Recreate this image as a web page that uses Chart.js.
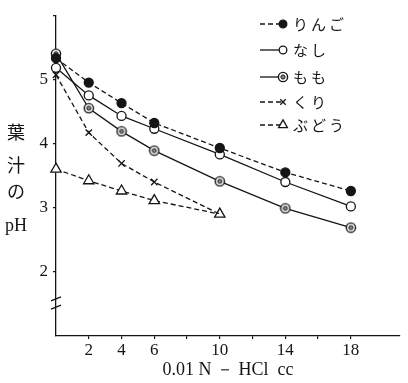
<!DOCTYPE html>
<html><head><meta charset="utf-8">
<script src="https://cdn.jsdelivr.net/npm/chart.js@4/dist/chart.umd.min.js"></script>
<style>html,body{margin:0;padding:0;background:#fff}#wrap{width:408px;height:383px;position:relative}</style>
</head><body><div id="wrap"><canvas id="c" width="408" height="383"></canvas></div>
<script>
// ---- data ----
const xValues = [0, 2, 4, 6, 10, 14, 18];
const ringo = [5.33, 4.95, 4.63, 4.32, 3.93, 3.55, 3.26];
const nashi = [5.18, 4.75, 4.43, 4.23, 3.83, 3.40, 3.02];
const momo  = [5.40, 4.55, 4.19, 3.89, 3.41, 2.99, 2.69];
const kuriX = [0, 2, 4, 6, 10];
const kuri  = [5.07, 4.17, 3.69, 3.40, 2.90];
const budouX = [0, 2, 4, 6, 10];
const budou = [3.60, 3.42, 3.26, 3.11, 2.90];
const seriesNames = ['りんご', 'なし', 'もも', 'くり', 'ぶどう'];
const xTickLabels = [2, 4, 6, 10, 14, 18];
const xTickMarks = [2, 4, 6, 8, 10, 12, 14, 16, 18];
const yTickLabels = [2, 3, 4, 5];
const yTickMarks = [2, 3, 4, 5, 6];
const yTitleParts = ['葉', '汁', 'の', 'pH'];
const xTitle = '0.01 N － HCl  cc';

const INK = '#151515';
const pts = (xs, ys) => xs.map((x, i) => ({x: x, y: ys[i]}));

// circled-dot marker for もも
function makeMomoMarker() {
  const c = document.createElement('canvas');
  c.width = 12; c.height = 12;
  const g = c.getContext('2d');
  g.beginPath(); g.arc(6, 6, 4.6, 0, Math.PI * 2);
  g.fillStyle = '#fff'; g.fill();
  g.lineWidth = 1.4; g.strokeStyle = INK; g.stroke();
  g.beginPath(); g.arc(6, 6, 2.1, 0, Math.PI * 2);
  g.fillStyle = '#888'; g.fill();
  g.lineWidth = 1; g.strokeStyle = INK; g.stroke();
  return c;
}
const momoMarker = makeMomoMarker();

const DASH = [5, 3];
const datasets = [
  {label: seriesNames[0], data: pts(xValues, ringo), borderDash: DASH, pointStyle: 'circle',
   pointRadius: 4.5, pointBackgroundColor: INK},
  {label: seriesNames[1], data: pts(xValues, nashi), borderDash: [], pointStyle: 'circle',
   pointRadius: 4.5, pointBackgroundColor: '#fff'},
  {label: seriesNames[2], data: pts(xValues, momo), borderDash: [], pointStyle: momoMarker,
   pointRadius: 5, pointBackgroundColor: '#fff'},
  {label: seriesNames[3], data: pts(kuriX, kuri), borderDash: DASH, pointStyle: 'crossRot',
   pointRadius: [4.5, 4.5, 4.5, 4.5, 0], pointBackgroundColor: '#fff'},
  {label: seriesNames[4], data: pts(budouX, budou), borderDash: DASH, pointStyle: 'triangle',
   pointRadius: 6, pointBackgroundColor: '#fff'}
].map(d => Object.assign({
  borderColor: INK, borderWidth: 1.3, pointBorderColor: INK, pointBorderWidth: 1.3,
  tension: 0, fill: false, clip: false
}, d));

const serif = 'Liberation Serif';

const extras = {
  id: 'extras',
  afterDatasetsDraw(chart) {
    const ctx = chart.ctx;
    const xs = chart.scales.x, ys = chart.scales.y;
    ctx.save();
    // axis break marks
    ctx.strokeStyle = INK; ctx.lineWidth = 1.3;
    const ax = xs.left;
    [1.45, 1.58].forEach(v => {
      const py = ys.getPixelForValue(v);
      ctx.beginPath(); ctx.moveTo(ax - 5, py + 2); ctx.lineTo(ax + 5, py - 2); ctx.stroke();
    });
    // y title
    ctx.fillStyle = INK; ctx.textAlign = 'center'; ctx.textBaseline = 'middle';
    const yPos = [4.17, 3.67, 3.26, 2.71];
    yTitleParts.forEach((t, i) => {
      ctx.font = (t === 'pH' ? '18px "' + serif + '"' : '18px "Noto Sans CJK JP"');
      ctx.fillText(t, 16, ys.getPixelForValue(yPos[i]));
    });
    // legend
    const rows = [24, 50, 77, 102, 125];
    chart.data.datasets.forEach((ds, i) => {
      const y = rows[i];
      ctx.save();
      ctx.strokeStyle = INK; ctx.lineWidth = 1.3;
      ctx.setLineDash(ds.borderDash || []);
      ctx.beginPath(); ctx.moveTo(260, y); ctx.lineTo(282, y); ctx.stroke();
      ctx.restore();
      ctx.save();
      ctx.fillStyle = ds.pointBackgroundColor; ctx.strokeStyle = INK; ctx.lineWidth = 1.3;
      const r = Array.isArray(ds.pointRadius) ? ds.pointRadius[0] : ds.pointRadius;
      Chart.helpers.drawPoint(ctx, {pointStyle: ds.pointStyle, radius: r * 0.85, rotation: 0, borderWidth: 1.3}, 283, y);
      ctx.restore();
      ctx.font = '15px "Noto Sans CJK JP"'; ctx.textAlign = 'left'; ctx.fillStyle = INK;
      [...ds.label].forEach((ch, k) => ctx.fillText(ch, 293 + k * 18, y));
    });
    ctx.restore();
  }
};

new Chart(document.getElementById('c'), {
  type: 'line',
  data: {datasets: datasets},
  options: {
    responsive: false, animation: false, devicePixelRatio: 1,
    layout: {padding: {top: 6, right: 8, left: 0, bottom: 0}},
    plugins: {legend: {display: false}, tooltip: {enabled: false}},
    scales: {
      x: {
        type: 'linear', min: 0, max: 21,
        afterFit(s) { s.height = 47; },
        afterBuildTicks(s) { s.ticks = xTickMarks.map(v => ({value: v})); },
        grid: {drawOnChartArea: false, drawTicks: true, tickLength: 3, color: INK, lineWidth: 1.2},
        border: {display: true, color: INK, width: 1.3},
        ticks: {
          autoSkip: false, maxRotation: 0, padding: 1, color: INK,
          font: {family: serif, size: 17},
          callback: v => xTickLabels.includes(v) ? String(v) : ''
        },
        title: {display: true, text: xTitle, color: INK, font: {family: serif, size: 18},
                padding: {top: 0, bottom: 2}}
      },
      y: {
        type: 'linear', min: 1, max: 6,
        afterFit(s) { s.width = 56; },
        afterBuildTicks(s) { s.ticks = yTickMarks.map(v => ({value: v})); },
        grid: {drawOnChartArea: false, drawTicks: true, tickLength: 3, color: INK, lineWidth: 1.2},
        border: {display: true, color: INK, width: 1.3},
        ticks: {
          padding: 5, color: INK, font: {family: serif, size: 17},
          callback: v => yTickLabels.includes(v) ? String(v) : ''
        }
      }
    }
  },
  plugins: [extras]
});
</script>
</body></html>
